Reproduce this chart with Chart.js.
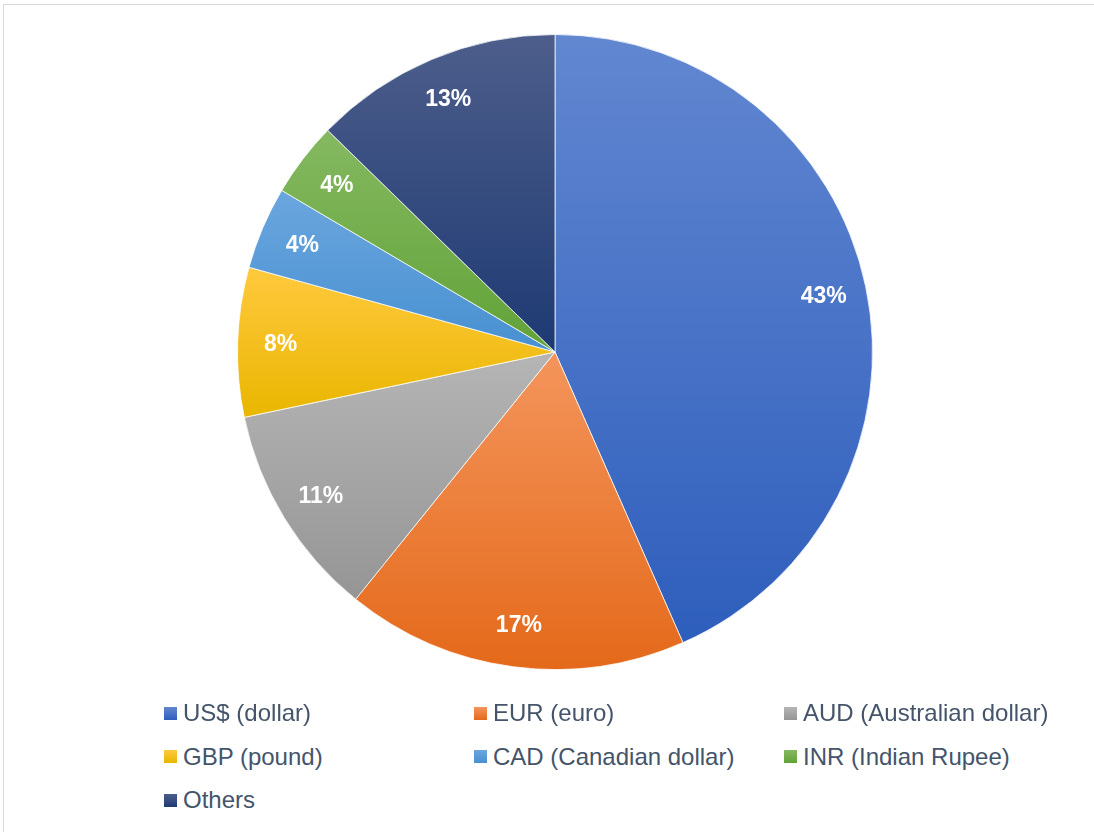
<!DOCTYPE html>
<html>
<head>
<meta charset="utf-8">
<script src="https://cdn.jsdelivr.net/npm/chart.js@4/dist/chart.umd.min.js"></script>
<style>
  html, body { margin: 0; padding: 0; background: #fff; overflow: hidden; }
  body { width: 1094px; height: 832px; position: relative; font-family: "Liberation Sans", Arial, sans-serif; }
  #frame { position: absolute; left: 3px; top: 4px; width: 1100px; height: 840px; border: 1px solid #d9d9d9; box-sizing: border-box; }
  #wrap { position: absolute; left: 0; top: 0; width: 1094px; height: 704px; }
  #legend { position: absolute; left: 0; top: 691px; width: 1094px; }
  .item { position: absolute; height: 44px; display: flex; align-items: center; font-size: 24px; color: #44546a; white-space: nowrap; }
  .box { width: 13px; height: 13px; margin-right: 6px; }
</style>
</head>
<body>
<div id="frame"></div>
<div id="wrap"><canvas id="myChart"></canvas></div>
<div id="legend"></div>
<script>
// currency shares (percent)
const currencies = ["US$ (dollar)", "EUR (euro)", "AUD (Australian dollar)", "GBP (pound)", "CAD (Canadian dollar)", "INR (Indian Rupee)", "Others"];
const shares = [43.4, 17.4, 10.9, 7.6, 4.2, 3.8, 12.7];
// top / bottom colours of each slice gradient
const topColors = ["#6287d1", "#f4955c", "#b5b5b5", "#ffc93e", "#6ba6de", "#85b961", "#4d5e8b"];
const bottomColors = ["#2e5ebc", "#e4691a", "#959595", "#e9b600", "#4790d1", "#61a237", "#1e3a73"];

function arcYRange(arc) {
  const p = arc.getProps(["x", "y", "startAngle", "endAngle", "outerRadius"], true);
  const ys = [p.y, p.y + p.outerRadius * Math.sin(p.startAngle), p.y + p.outerRadius * Math.sin(p.endAngle)];
  const inArc = function (a) {
    const twoPi = Math.PI * 2;
    let s = ((p.startAngle % twoPi) + twoPi) % twoPi;
    let t = ((a - s) % twoPi + twoPi) % twoPi;
    return t <= (p.endAngle - p.startAngle);
  };
  if (inArc(-Math.PI / 2)) ys.push(p.y - p.outerRadius);
  if (inArc(Math.PI / 2)) ys.push(p.y + p.outerRadius);
  return { min: Math.min.apply(null, ys), max: Math.max.apply(null, ys) };
}

// excel-like vertical gradient inside each slice
const gradientFill = {
  id: "gradientFill",
  beforeDatasetsDraw(chart) {
    const ctx = chart.ctx;
    chart.getDatasetMeta(0).data.forEach((arc, i) => {
      const r = arcYRange(arc);
      const g = ctx.createLinearGradient(0, r.min, 0, r.max);
      g.addColorStop(0, topColors[i]);
      g.addColorStop(1, bottomColors[i]);
      arc.options.backgroundColor = g;
    });
  },
};

// percent labels inside the slices
const sliceLabels = {
  id: "sliceLabels",
  afterDatasetsDraw(chart) {
    const ctx = chart.ctx;
    const total = shares.reduce((a, b) => a + b, 0);
    ctx.save();
    ctx.font = "bold 23px 'Liberation Sans', Arial, sans-serif";
    ctx.fillStyle = "#ffffff";
    ctx.textAlign = "center";
    ctx.textBaseline = "middle";
    chart.getDatasetMeta(0).data.forEach((arc, i) => {
      const p = arc.getProps(["x", "y", "startAngle", "endAngle", "outerRadius"], true);
      const mid = (p.startAngle + p.endAngle) / 2;
      const rr = p.outerRadius * 0.865;
      const txt = Math.round(shares[i] / total * 100) + "%";
      ctx.fillText(txt, p.x + rr * Math.cos(mid), p.y + rr * Math.sin(mid) + 1);
    });
    ctx.restore();
  },
};

const chart = new Chart(document.getElementById("myChart"), {
  type: "pie",
  data: {
    labels: currencies,
    datasets: [{
      data: shares,
      backgroundColor: bottomColors,
      borderColor: "rgba(255,255,255,0.75)",
      borderWidth: 1,
    }],
  },
  options: {
    responsive: true,
    maintainAspectRatio: false,
    animation: false,
    layout: { padding: { top: 34, bottom: 34, left: 16, right: 0 } },
    plugins: { legend: { display: false }, tooltip: { enabled: false } },
  },
  plugins: [gradientFill, sliceLabels],
});

// legend in three columns
const legend = document.getElementById("legend");
const colX = [164, 474, 784];
const rowH = 43.5;
currencies.forEach((name, i) => {
  const item = document.createElement("div");
  item.className = "item";
  item.style.left = colX[i % 3] + "px";
  item.style.top = Math.floor(i / 3) * rowH + "px";
  const box = document.createElement("span");
  box.className = "box";
  box.style.background = "linear-gradient(" + topColors[i] + "," + bottomColors[i] + ")";
  item.appendChild(box);
  item.appendChild(document.createTextNode(name));
  legend.appendChild(item);
});
</script>
</body>
</html>
